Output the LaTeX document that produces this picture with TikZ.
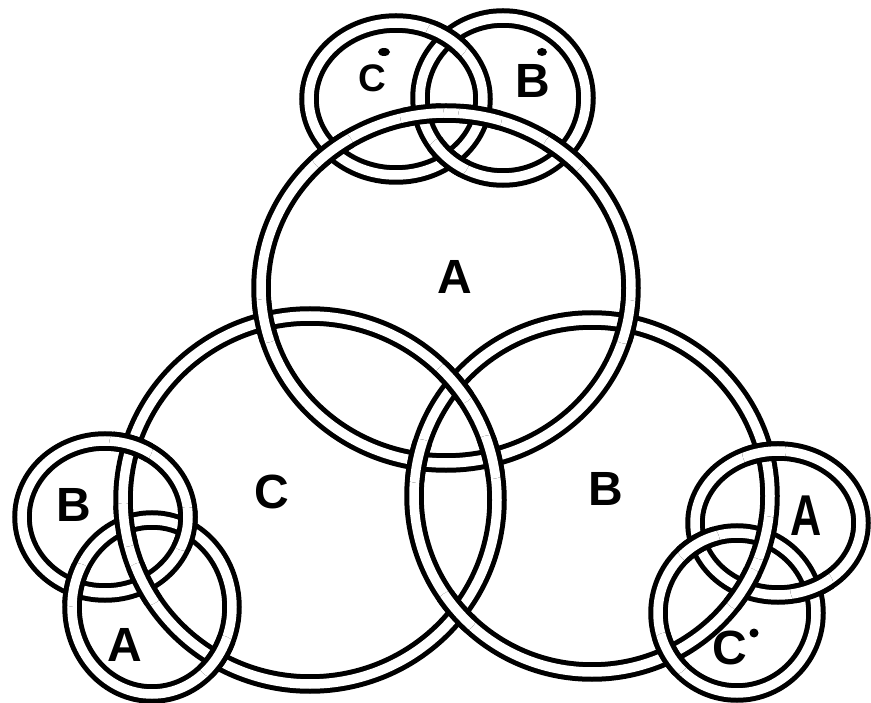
\documentclass[tikz,border=0pt]{standalone}
\usepackage{fontspec}
\setsansfont{Liberation Sans}
\usetikzlibrary{positioning}

% centre lines of the rings (x radius, y radius in pt)
\newcommand{\ringA}{(446,288) ellipse [x radius=185pt, y radius=175pt]}
\newcommand{\ringB}{(592,496) ellipse [x radius=178pt, y radius=176pt]}
\newcommand{\ringC}{(310,500) ellipse [x radius=187pt, y radius=184pt]}
\newcommand{\ringCt}{(396,99) ellipse [x radius=87pt, y radius=76pt]}
\newcommand{\ringBt}{(503,98) ellipse [x radius=83pt, y radius=80pt]}
\newcommand{\ringBl}{(105,517) ellipse [x radius=83pt, y radius=76pt]}
\newcommand{\ringAl}{(152,607) ellipse [x radius=80pt, y radius=87pt]}
\newcommand{\ringAr}{(778,523) ellipse [x radius=83pt, y radius=72pt]}
\newcommand{\ringCr}{(737,613) ellipse [x radius=79pt, y radius=80pt]}
% redraw the upper band round one crossing
\newcommand{\overat}[2]{\begin{scope}\clip (#1) circle (22pt); \draw[band] #2; \end{scope}}

\begin{document}
\begin{tikzpicture}[x=1pt,y=-1pt,
    band/.style={line width=5pt,double=white,double distance=9.5pt},
    lbl/.style={font=\sffamily\bfseries\fontsize{48}{48}\selectfont,inner sep=0pt}
  ]
  \useasboundingbox[fill=white] (0,0) rectangle (871,703);

  % all rings
  \foreach \r in {\ringA,\ringB,\ringC,\ringCt,\ringBt,\ringBl,\ringAl,\ringAr,\ringCr}
    \draw[band] \r;

  % big rings
  \overat{264,321}{\ringA}
  \overat{491,457}{\ringC}
  \overat{628,322}{\ringA}
  \overat{418,461}{\ringB}
  \overat{455,383}{\ringC}
  \overat{456,612}{\ringB}
  % top pair
  \overat{447,39}{\ringCt}
  \overat{448,158}{\ringBt}
  \overat{332,150}{\ringA}
  \overat{480,117}{\ringA}
  \overat{422,115}{\ringA}
  \overat{564,153}{\ringA}
  % left pair
  \overat{131,445}{\ringBl}
  \overat{144,584}{\ringC}
  \overat{124,525}{\ringC}
  \overat{218,657}{\ringAl}
  \overat{75,585}{\ringAl}
  \overat{187,529}{\ringBl}
  % right pair
  \overat{764,451}{\ringAr}
  \overat{744,589}{\ringB}
  \overat{765,538}{\ringB}
  \overat{669,654}{\ringCr}
  \overat{698,543}{\ringCr}
  \overat{812,588}{\ringAr}

  % letters
  \node[lbl] (labA) at (455,277) {A};
  \node[lbl] (labC) at (272,492) {C};
  \node[lbl] (labB) at (606,489) {B};
  \node[lbl,scale=0.8] (labCt) at (372,78) {C};
  \node[lbl] (labBt) at (533,81) {B};
  \node[lbl] (labBl) at (74,505) {B};
  \node[lbl] (labAl) at (125,645) {A};
  \node[lbl,xscale=0.9,yscale=1.2] (labAr) at (806,516) {A};
  \node[lbl] (labCr) at (730,648) {C};
  \fill (384,52) ellipse [x radius=6pt, y radius=4pt];
  \fill (542,52) ellipse [x radius=5pt, y radius=4pt];
  \fill (754,633) circle (4.5pt);
\end{tikzpicture}
\end{document}
